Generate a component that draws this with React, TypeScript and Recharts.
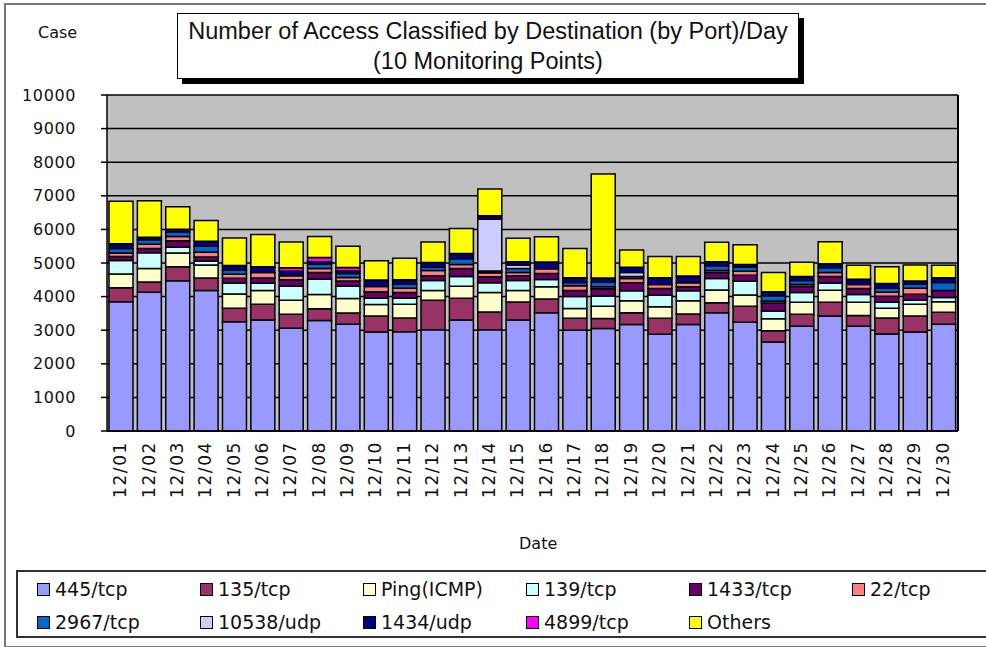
import React from "react";
import {
  BarChart,
  Bar,
  XAxis,
  YAxis,
  CartesianGrid,
} from "recharts";

const DATES = [
  "12/01", "12/02", "12/03", "12/04", "12/05", "12/06", "12/07", "12/08", "12/09", "12/10",
  "12/11", "12/12", "12/13", "12/14", "12/15", "12/16", "12/17", "12/18", "12/19", "12/20",
  "12/21", "12/22", "12/23", "12/24", "12/25", "12/26", "12/27", "12/28", "12/29", "12/30",
];

const TCP445 = [3850, 4130, 4470, 4180, 3250, 3300, 3060, 3290, 3180, 2950, 2955, 3010, 3300, 3010, 3300, 3520, 3000, 3050, 3170, 2880, 3170, 3520, 3240, 2650, 3120, 3420, 3120, 2890, 2950, 3180];
const TCP135 = [410, 305, 415, 375, 405, 470, 415, 345, 335, 470, 405, 880, 650, 530, 540, 405, 355, 300, 350, 475, 310, 300, 470, 335, 355, 415, 315, 470, 470, 355];
const PING = [410, 405, 415, 385, 425, 415, 415, 425, 425, 345, 415, 295, 355, 580, 345, 365, 290, 365, 355, 345, 395, 375, 335, 355, 355, 355, 395, 295, 355, 315];
const TCP139 = [405, 465, 170, 120, 325, 215, 415, 465, 365, 185, 175, 295, 295, 295, 295, 220, 355, 300, 300, 340, 300, 340, 415, 235, 295, 215, 235, 180, 120, 120];
const TCP1433 = [120, 130, 195, 120, 140, 155, 195, 195, 160, 195, 175, 140, 235, 175, 140, 180, 180, 220, 240, 200, 120, 180, 175, 235, 175, 195, 175, 175, 175, 215];
const TCP22 = [100, 120, 120, 140, 120, 160, 120, 120, 100, 155, 120, 155, 120, 120, 100, 140, 140, 60, 120, 120, 120, 60, 120, 60, 60, 120, 120, 120, 175, 0];
const TCP2967 = [135, 140, 140, 180, 120, 0, 0, 120, 120, 0, 120, 100, 175, 50, 120, 0, 100, 140, 60, 0, 0, 140, 120, 155, 120, 140, 0, 120, 120, 235];
const UDP10538 = [0, 0, 0, 0, 0, 0, 0, 0, 0, 0, 0, 0, 0, 1545, 100, 0, 0, 0, 120, 0, 0, 0, 0, 0, 0, 0, 0, 0, 0, 0];
const UDP1434 = [140, 70, 80, 145, 140, 175, 135, 80, 80, 195, 135, 140, 155, 100, 100, 200, 140, 120, 160, 200, 200, 120, 80, 120, 120, 120, 155, 140, 100, 140];
const TCP4899 = [0, 0, 0, 0, 0, 0, 100, 120, 100, 0, 0, 0, 0, 0, 0, 0, 0, 0, 0, 0, 0, 0, 0, 0, 0, 0, 0, 0, 0, 0];
const OTHERS = [1270, 1090, 670, 620, 820, 955, 770, 630, 630, 570, 640, 610, 740, 800, 700, 750, 875, 3095, 515, 635, 575, 585, 590, 570, 425, 650, 415, 495, 475, 375];

const Y_TICKS = [0, 1000, 2000, 3000, 4000, 5000, 6000, 7000, 8000, 9000, 10000];

const SERIES = [
  { key: "445/tcp", values: TCP445, color: "#9999ff" },
  { key: "135/tcp", values: TCP135, color: "#993366" },
  { key: "Ping(ICMP)", values: PING, color: "#ffffcc" },
  { key: "139/tcp", values: TCP139, color: "#ccffff" },
  { key: "1433/tcp", values: TCP1433, color: "#660066" },
  { key: "22/tcp", values: TCP22, color: "#ff8080" },
  { key: "2967/tcp", values: TCP2967, color: "#0066cc" },
  { key: "10538/udp", values: UDP10538, color: "#ccccff" },
  { key: "1434/udp", values: UDP1434, color: "#000080" },
  { key: "4899/tcp", values: TCP4899, color: "#ff00ff" },
  { key: "Others", values: OTHERS, color: "#ffff00" },
];

const data = DATES.map((date, i) => {
  const row: Record<string, string | number> = { date };
  SERIES.forEach((s) => {
    row[s.key] = s.values[i];
  });
  return row;
});

const FONT = "'DejaVu Sans', Verdana, sans-serif";

function YTick({ x, y, payload }: any) {
  return (
    <g>
      <line x1={x} x2={x + 6} y1={y} y2={y} stroke="#000" strokeWidth={1.5} />
      <text x={x - 25} y={y} textAnchor="end" dominantBaseline="central" fontSize={16} letterSpacing={0.6} fontFamily={FONT} fill="#111">
        {payload.value}
      </text>
    </g>
  );
}

function XTick({ x, y, payload }: any) {
  const ty = y + 2;
  return (
    <text
      x={x - 1}
      y={ty}
      transform={`rotate(-90 ${x - 1} ${ty})`}
      textAnchor="end"
      dominantBaseline="central"
      fontSize={17}
      letterSpacing={1.6}
      fontFamily={FONT}
      fill="#111"
    >
      {payload.value}
    </text>
  );
}

export default function App() {
  return (
    <div style={{ position: "absolute", left: 0, top: 0, width: 986, height: 647, background: "#fff", overflow: "hidden" }}>
      <div style={{ position: "absolute", left: 4, top: 3, width: 1000, height: 641, border: "2px solid #777" }} />
      <div style={{ position: "absolute", left: 0, top: 0 }}>
        <BarChart
          width={986}
          height={647}
          data={data}
          margin={{ top: 95, right: 28, bottom: 136, left: 0 }}
          barCategoryGap={2}
        >
          <CartesianGrid
            stroke="#000"
            strokeWidth={1.5}
            fill="#c0c0c0"
            fillOpacity={1}
            vertical={false}
          />
          <XAxis
            dataKey="date"
            interval={0}
            height={80}
            tickLine={false}
            axisLine={{ stroke: "#000", strokeWidth: 1.5 }}
            tick={<XTick />}
          />
          <YAxis
            width={107}
            domain={[0, 10000]}
            ticks={Y_TICKS}
            tickLine={false}
            tickMargin={0}
            axisLine={{ stroke: "#000", strokeWidth: 1.5 }}
            tick={<YTick />}
          />
          {SERIES.map((s) => (
            <Bar
              key={s.key}
              dataKey={s.key}
              stackId="a"
              fill={s.color}
              stroke="#000"
              strokeWidth={1.5}
              isAnimationActive={false}
            />
          ))}
        </BarChart>
      </div>
      <div style={{ position: "absolute", left: 957, top: 95, width: 1.5, height: 336, background: "#000" }} />
      <div style={{ position: "absolute", left: 38, top: 23, fontFamily: FONT, fontSize: 16, color: "#111" }}>Case</div>
      <div
        style={{
          position: "absolute",
          left: 177,
          top: 13,
          width: 620,
          height: 62,
          border: "1.5px solid #000",
          background: "#fff",
          boxShadow: "5px 5px 0 #000",
          fontFamily: "'Liberation Sans', Arial, sans-serif",
          fontSize: 23.5,
          letterSpacing: 0,
          lineHeight: "30px",
          textAlign: "center",
          color: "#111",
          paddingTop: 2,
          whiteSpace: "nowrap",
        }}
      >
        Number of Access Classified by Destination (by Port)/Day
        <br />
        (10 Monitoring Points)
      </div>
      <div style={{ position: "absolute", left: 519, top: 534, fontFamily: FONT, fontSize: 16, color: "#111" }}>Date</div>
      <div
        style={{
          position: "absolute",
          left: 16,
          top: 570,
          width: 1000,
          height: 68,
          border: "2px solid #333",
          boxSizing: "border-box",
        }}
      >
        {SERIES.map((s, i) => {
          const col = i < 6 ? i : i - 6;
          const row = i < 6 ? 0 : 1;
          return (
            <div
              key={s.key}
              style={{
                position: "absolute",
                left: 19 + col * 163,
                top: 4 + row * 33,
                display: "flex",
                alignItems: "center",
                fontFamily: FONT,
                fontSize: 19,
                color: "#111",
                height: 26,
              }}
            >
              <span
                style={{
                  display: "inline-block",
                  width: 11,
                  height: 11,
                  background: s.color,
                  border: "1.5px solid #000",
                  marginRight: 5,
                }}
              />
              {s.key}
            </div>
          );
        })}
      </div>
    </div>
  );
}
